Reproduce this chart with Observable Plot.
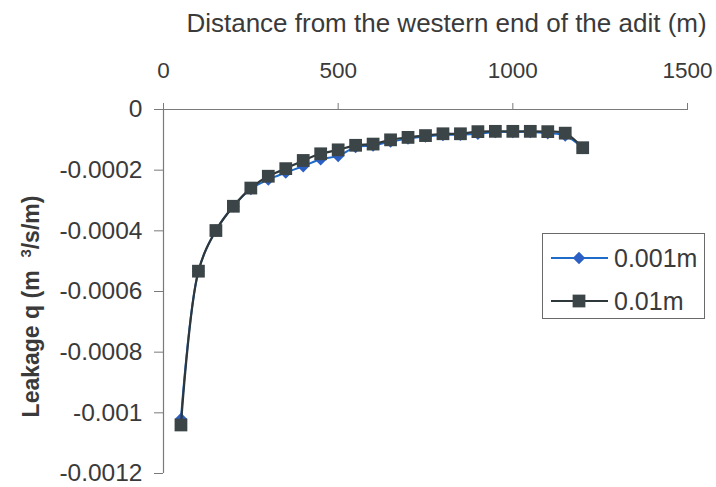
<!DOCTYPE html>
<html>
<head>
<meta charset="utf-8">
<script src="https://cdn.jsdelivr.net/npm/d3@7"></script>
<script src="https://cdn.jsdelivr.net/npm/@observablehq/plot@0.6"></script>
<style>
  html, body { margin: 0; padding: 0; background: #fff; }
  #chart { position: relative; width: 716px; height: 487px; font-family: "Liberation Sans", Arial, sans-serif; color: #3a3a3a; }
  #legend { position: absolute; left: 542px; top: 233px; width: 163px; height: 86px; border: 1px solid #6a6a6a; background: #fff; box-sizing: border-box; }
</style>
</head>
<body>
<div id="chart"></div>
<script>
// Distance along the adit (m)
const distance = [50, 100, 150, 200, 250, 300, 350, 400, 450, 500, 550, 600,
  650, 700, 750, 800, 850, 900, 950, 1000, 1050, 1100, 1150, 1200];

// Leakage q (m³/s/m) for aperture 0.001 m
const leak001 = [-0.00102, -0.000533, -0.000399, -0.000319, -0.000262, -0.000231,
  -0.000208, -0.000187, -0.000164, -0.000153, -0.000124, -0.000119, -0.000106,
  -0.000096, -0.000089, -0.000084, -0.000083, -0.00008, -0.000074, -0.000074,
  -0.000074, -0.000078, -0.000086, -0.000127];

// Leakage q (m³/s/m) for aperture 0.01 m
const leak01 = [-0.00104, -0.000533, -0.000399, -0.000319, -0.000259, -0.00022,
  -0.000195, -0.000168, -0.000146, -0.000133, -0.000118, -0.000114, -0.0001,
  -0.000092, -0.000086, -0.00008, -0.00008, -0.000073, -0.000072, -0.000072,
  -0.000072, -0.000073, -0.000078, -0.000126];

const seriesNames = ["0.001m", "0.01m"];
const xTicks = [0, 500, 1000, 1500];
const yTicks = [0, -0.0002, -0.0004, -0.0006, -0.0008, -0.001, -0.0012];
const yTickLabels = ["0", "-0.0002", "-0.0004", "-0.0006", "-0.0008", "-0.001", "-0.0012"];
const xTitle = "Distance from the western end of the adit (m)";
const yTitle = ["Leakage q (m  ", "3", "/s/m)"];

const blue = "#1f6bc9";
const blueMark = "#2c5fc3";
const dark = "#2e373a";
const darkMark = "#3b4447";
const textColor = "#3a3a3a";
const axisColor = "#7a7a7a";
const font = "Liberation Sans, Arial, sans-serif";

const rows001 = distance.map((d, i) => ({x: d, q: leak001[i]}));
const rows01 = distance.map((d, i) => ({x: d, q: leak01[i]}));

const plot = Plot.plot({
  width: 716,
  height: 487,
  marginTop: 109,
  marginBottom: 14,
  marginLeft: 163,
  marginRight: 29,
  style: {fontFamily: font, fontSize: "23px", color: textColor, background: "transparent"},
  x: {domain: [0, 1500]},
  y: {domain: [-0.0012, 0]},
  marks: [
    Plot.ruleY([0], {stroke: axisColor, strokeWidth: 1.2}),
    Plot.ruleX([0], {stroke: axisColor, strokeWidth: 1.2}),
    Plot.axisX({anchor: "top", ticks: xTicks, tickSize: 7, tickPadding: 25, stroke: axisColor,
      fill: textColor, fontSize: 22.5, label: null, tickFormat: d => String(d)}),
    Plot.axisY({anchor: "left", ticks: yTicks, tickSize: 9, tickPadding: 12, stroke: axisColor,
      fill: textColor, fontSize: 24.5, label: null,
      tickFormat: d => yTickLabels[yTicks.indexOf(d)]}),
    Plot.text([xTitle], {
      frameAnchor: "top", textAnchor: "middle", dx: 21, dy: -78, lineAnchor: "bottom",
      fontSize: 26, fill: textColor, text: d => d}),
    Plot.text([yTitle.join("")], {
      frameAnchor: "left", textAnchor: "middle", rotate: -90, dx: -132, dy: 15,
      fontSize: 23, fontWeight: "bold", fill: textColor, text: d => d, className: "ytitle"}),
    Plot.line(rows001, {x: "x", y: "q", stroke: blue, strokeWidth: 2, curve: "catmull-rom"}),
    Plot.dot(rows001, {x: "x", y: "q", symbol: "diamond2", r: 5.6, fill: blueMark, stroke: "none"}),
    Plot.line(rows01, {x: "x", y: "q", stroke: dark, strokeWidth: 2.2, curve: "catmull-rom"}),
    Plot.dot(rows01, {x: "x", y: "q", symbol: "square", r: 7.2, fill: darkMark, stroke: "none"})
  ]
});

// Raise the "3" of m³ in the y-axis title
d3.select(plot).selectAll(".ytitle text").each(function () {
  const t = d3.select(this);
  t.text(null);
  t.append("tspan").text(yTitle[0]);
  t.append("tspan").attr("baseline-shift", "super").attr("font-size", "65%").text(yTitle[1]);
  t.append("tspan").text(yTitle[2]);
});

const chart = document.getElementById("chart");
chart.appendChild(plot);

// Legend box with line + marker samples
const legend = d3.select(chart).append("div").attr("id", "legend");
const lsvg = legend.append("svg").attr("width", 161).attr("height", 84)
  .style("font-family", font);
const entries = [
  {name: seriesNames[0], stroke: blue, fill: blueMark, symbol: d3.symbolDiamond2, size: Math.PI * 5.6 * 5.6, y: 24},
  {name: seriesNames[1], stroke: dark, fill: darkMark, symbol: d3.symbolSquare, size: Math.PI * 7.2 * 7.2, y: 67}
];
for (const e of entries) {
  const g = lsvg.append("g").attr("transform", `translate(0,${e.y})`);
  g.append("line").attr("x1", 8).attr("x2", 65).attr("y1", 0).attr("y2", 0)
    .attr("stroke", e.stroke).attr("stroke-width", 2);
  g.append("path").attr("d", d3.symbol(e.symbol, e.size)())
    .attr("transform", "translate(36,0)").attr("fill", e.fill);
  g.append("text").attr("x", 71).attr("y", 0).attr("dy", "0.36em")
    .attr("font-size", 25).attr("fill", textColor).text(e.name);
}
</script>
</body>
</html>
